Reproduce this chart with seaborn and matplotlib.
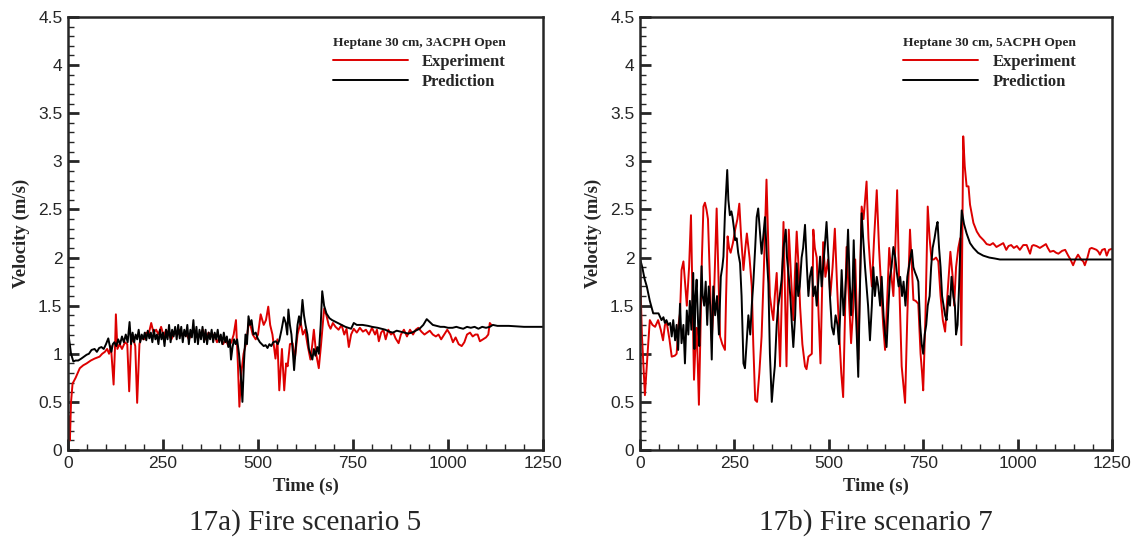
import numpy as np
import pandas as pd
import matplotlib
matplotlib.use('Agg')
import matplotlib.pyplot as plt
from matplotlib.ticker import MultipleLocator
import seaborn as sns

# ---- 17a) Fire scenario 5 : Heptane 30 cm, 3ACPH Open ----
a_exp_t = [0, 3, 5, 8, 12, 20, 31, 40, 49, 60, 70, 83, 90, 97, 103, 108, 113, 120, 124, 126, 130, 136, 142, 150,
           156, 161, 166, 172, 177, 182, 188, 193, 200, 206, 212, 219, 225, 232, 238, 245, 252, 258, 265, 272, 280,
           288, 295, 302, 310, 318, 325, 332, 340, 348, 355, 362, 370, 378, 385, 392, 400, 408, 415, 422, 430, 436,
           442, 447, 451, 456, 462, 468, 477, 486, 494, 500, 507, 515, 521, 527, 532, 538, 546, 551, 556, 563, 569,
           574, 578, 584, 591, 597, 604, 612, 618, 624, 630, 638, 643, 647, 653, 660, 666, 674, 680, 686, 691, 697,
           704, 712, 720, 727, 733, 739, 745, 752, 760, 768, 776, 784, 792, 800, 808, 813, 818, 824, 830, 836, 843,
           850, 856, 862, 870, 876, 884, 892, 900, 908, 915, 922, 930, 938, 945, 952, 960, 968, 975, 982, 990, 998,
           1006, 1013, 1020, 1028, 1036, 1043, 1050, 1058, 1065, 1072, 1078, 1084, 1092, 1100, 1106, 1110, 1114]
a_exp_v = [0.08, 0.35, 0.1, 0.5, 0.69, 0.75, 0.85, 0.88, 0.9, 0.93, 0.95, 0.97, 1.0, 1.02, 1.05, 1.0, 1.08, 0.68,
           1.1, 1.41, 1.05, 1.1, 1.05, 1.12, 1.1, 0.61, 1.12, 1.15, 1.08, 0.49, 1.1, 1.18, 1.15, 1.22, 1.2, 1.32,
           1.22, 1.25, 1.2, 1.28, 1.18, 1.25, 1.2, 1.15, 1.22, 1.2, 1.25, 1.18, 1.22, 1.15, 1.2, 1.25, 1.18, 1.2,
           1.25, 1.15, 1.22, 1.18, 1.2, 1.12, 1.18, 1.1, 1.15, 1.08, 1.12, 1.2, 1.35, 0.9, 0.45, 0.8, 1.0, 1.1, 1.35,
           1.2, 1.15, 1.2, 1.41, 1.3, 1.35, 1.49, 1.3, 1.2, 0.95, 1.15, 0.62, 1.05, 0.62, 0.9, 0.87, 1.1, 1.11, 0.95,
           1.2, 1.33, 1.2, 1.25, 1.1, 0.94, 1.1, 1.25, 1.0, 0.85, 1.1, 1.47, 1.4, 1.3, 1.26, 1.32, 1.28, 1.25, 1.3,
           1.2, 1.26, 1.07, 1.2, 1.26, 1.22, 1.27, 1.23, 1.25, 1.2, 1.27, 1.2, 1.25, 1.13, 1.22, 1.25, 1.15, 1.25,
           1.2, 1.22, 1.16, 1.11, 1.2, 1.25, 1.18, 1.25, 1.2, 1.25, 1.27, 1.23, 1.2, 1.22, 1.24, 1.2, 1.18, 1.2,
           1.15, 1.2, 1.25, 1.2, 1.12, 1.17, 1.1, 1.08, 1.12, 1.2, 1.22, 1.18, 1.2, 1.2, 1.13, 1.15, 1.17, 1.2,
           1.32, 1.3]

a_pred_t = [0, 3, 8, 14, 20, 27, 35, 42, 49, 55, 62, 70, 76, 82, 88, 94, 100, 106, 110, 114, 118, 122, 127, 132,
            137, 142, 147, 152, 157, 162, 166, 170, 174, 178, 182, 186, 190, 194, 198, 202, 206, 210, 214, 218, 222,
            226, 230, 234, 238, 242, 246, 250, 254, 258, 262, 266, 270, 274, 278, 282, 286, 290, 294, 298, 302, 306,
            310, 314, 318, 322, 326, 330, 334, 338, 342, 346, 350, 354, 358, 362, 366, 370, 374, 378, 382, 386, 390,
            394, 398, 402, 406, 410, 414, 418, 422, 426, 429, 433, 437, 441, 445, 450, 455, 459, 463, 467, 471, 475,
            479, 483, 488, 494, 499, 505, 510, 515, 520, 525, 530, 535, 540, 547, 552, 556, 562, 568, 573, 577, 580,
            584, 588, 592, 595, 600, 604, 608, 612, 617, 621, 625, 630, 634, 638, 643, 647, 651, 656, 660, 665, 669,
            674, 680, 688, 695, 705, 715, 730, 745, 752, 760, 775, 790, 800, 815,
            825, 835, 845, 855, 865, 875, 885, 895, 905, 915, 925, 935, 944, 952, 960, 970, 980, 990, 1000,
            1012, 1022, 1030, 1040, 1050, 1060, 1070, 1080, 1090, 1100, 1110, 1118, 1130, 1160, 1200, 1250]
a_pred_v = [1.25, 1.15, 1.0, 0.92, 0.93, 0.93, 0.95, 0.97, 0.99, 1.0, 1.04, 1.05, 1.02, 1.06, 1.07, 1.05, 1.1, 1.16,
            1.08, 1.02, 1.1, 1.12, 1.08, 1.15, 1.1, 1.18, 1.12, 1.2, 1.12, 1.33, 1.1, 1.22, 1.12, 1.2, 1.15, 1.25,
            1.12, 1.2, 1.15, 1.22, 1.14, 1.24, 1.16, 1.22, 1.12, 1.25, 1.15, 1.2, 1.1, 1.25, 1.15, 1.22, 1.08, 1.25,
            1.15, 1.3, 1.12, 1.25, 1.18, 1.28, 1.15, 1.3, 1.16, 1.28, 1.12, 1.25, 1.18, 1.3, 1.1, 1.25, 1.17, 1.35,
            1.12, 1.28, 1.1, 1.25, 1.15, 1.28, 1.12, 1.25, 1.1, 1.22, 1.15, 1.25, 1.12, 1.22, 1.15, 1.25, 1.12, 1.2,
            1.1, 1.22, 1.12, 1.18, 1.07, 1.15, 0.94, 1.07, 1.15, 1.1, 1.15, 1.0, 0.76, 0.5, 0.9, 1.2, 1.1, 1.39, 1.3,
            1.35, 1.2, 1.22, 1.16, 1.12, 1.1, 1.08, 1.09, 1.06, 1.1, 1.08, 1.12, 1.13, 1.1, 1.14, 1.25, 1.38, 1.32,
            1.2, 1.46, 1.3, 1.2, 1.0, 0.83, 1.1, 1.3, 1.39, 1.3, 1.56, 1.4, 1.3, 1.2, 1.05, 1.0, 0.94, 1.05, 0.98,
            1.07, 1.0, 1.3, 1.65, 1.5, 1.42, 1.37, 1.35, 1.33, 1.31, 1.28, 1.26, 1.32, 1.3, 1.3, 1.29, 1.28, 1.27,
            1.26, 1.25, 1.23, 1.22, 1.24, 1.23, 1.22, 1.21, 1.22, 1.24, 1.26, 1.3, 1.36, 1.33, 1.3, 1.29, 1.28, 1.28,
            1.27, 1.27, 1.28, 1.27, 1.26, 1.28, 1.27, 1.28, 1.26, 1.28, 1.27, 1.28, 1.3, 1.29, 1.29, 1.28, 1.28]

# ---- 17b) Fire scenario 7 : Heptane 30 cm, 5ACPH Open ----
b_exp_t = [0, 5, 13, 20, 26, 33, 40, 48, 55, 61, 66, 71, 78, 84, 92, 97, 102, 106, 110, 115, 120, 124, 130, 135,
           139, 143, 147, 150, 153, 156, 160, 164, 168, 172, 176, 180, 185, 190, 196, 203, 207, 212, 218, 225, 228,
           232, 236, 240, 246, 252, 258, 263, 268, 274, 279, 283, 290, 296, 300, 305, 310, 316, 322, 328, 335, 340,
           344, 349, 353, 357, 362, 368, 371, 375, 380, 384, 388, 394, 400, 406, 410, 415, 420, 424, 430, 437, 441,
           446, 455, 459, 463, 468, 473, 478, 485, 491, 498, 504, 510, 516, 522, 528, 533, 538, 543, 547, 553, 559,
           565, 570, 575, 578, 583, 587, 592, 600, 605, 609, 614, 620, 627, 633, 640, 644, 649, 655, 660, 666, 671,
           676, 681, 686, 693, 697, 702, 708, 715, 720, 724, 730, 737, 743, 747, 750, 756, 762, 767, 772, 778, 784,
           790, 796, 802, 808, 814, 822, 828, 832, 837, 843, 848, 851, 856, 860, 865, 870, 874, 883, 892, 900, 910,
           918, 927, 935, 944, 953, 962, 970, 976, 983, 990, 998, 1006, 1015, 1024, 1033, 1038, 1042, 1050, 1059,
           1067, 1075, 1080, 1086, 1095, 1102, 1108, 1118, 1126, 1134, 1140, 1147, 1153, 1160, 1168, 1174, 1178,
           1185, 1191, 1196, 1203, 1209, 1214, 1218, 1224, 1231, 1236, 1242, 1249]
b_exp_v = [1.9, 1.2, 0.57, 1.0, 1.35, 1.3, 1.28, 1.35, 1.25, 1.14, 1.3, 1.32, 1.15, 0.97, 0.98, 1.0, 1.3, 1.42,
           1.87, 1.96, 1.7, 1.5, 1.9, 2.44, 1.6, 0.73, 1.1, 1.27, 0.9, 0.47, 1.2, 2.0, 2.53, 2.57, 2.5, 2.4, 1.8,
           1.14, 1.6, 2.51, 1.9, 1.18, 1.1, 1.04, 1.6, 2.22, 2.1, 2.05, 2.15, 2.29, 2.4, 2.56, 2.2, 1.87, 2.1, 2.25,
           2.0, 1.7, 1.1, 0.52, 0.5, 0.8, 1.18, 1.87, 2.81, 2.1, 1.6, 1.45, 1.35, 1.6, 1.84, 1.2, 0.87, 1.5, 2.37,
           1.6, 0.87, 2.29, 1.8, 1.35, 1.8, 2.27, 1.9, 1.49, 1.1, 0.87, 0.84, 0.97, 1.0, 2.29, 2.1, 2.0, 1.4, 0.9,
           2.16, 1.8, 1.98, 1.6, 1.9, 2.3, 1.7, 1.18, 0.8, 0.55, 1.4, 2.11, 1.6, 1.11, 1.5, 1.98, 1.3, 0.94, 1.8,
           2.53, 2.4, 2.79, 2.2, 1.95, 1.7, 2.2, 2.7, 2.1, 1.6, 1.3, 1.04, 1.6, 2.1, 1.8, 1.6, 2.1, 2.7, 1.8, 0.87,
           0.7, 0.49, 1.4, 2.29, 1.9, 1.56, 1.55, 1.52, 1.0, 0.8, 0.62, 1.4, 2.53, 2.2, 1.98, 1.98, 2.0, 1.96, 1.6,
           1.35, 1.23, 1.6, 2.06, 1.8, 1.5, 1.9, 2.1, 2.2, 1.09, 3.26, 2.95, 2.74, 2.74, 2.55, 2.36, 2.27, 2.22,
           2.18, 2.14, 2.13, 2.15, 2.11, 2.13, 2.15, 2.08, 2.12, 2.13, 2.1, 2.12, 2.08, 2.13, 2.13, 2.04, 2.12, 2.13,
           2.12, 2.1, 2.12, 2.14, 2.1, 2.06, 2.07, 2.05, 2.04, 2.07, 2.08, 2.02, 1.98, 1.92, 1.98, 2.03, 1.98, 1.96,
           1.92, 2.0, 2.09, 2.1, 2.09, 2.08, 2.06, 2.03, 2.08, 2.09, 2.02, 2.08, 2.09]

b_pred_t = [0, 6, 12, 18, 26, 35, 42, 49, 57, 62, 66, 70, 75, 80, 84, 88, 93, 97, 101, 106, 110, 115, 119, 124, 128,
            132, 136, 141, 144, 147, 150, 154, 157, 160, 163, 166, 170, 174, 178, 182, 186, 190, 194, 199, 204, 209,
            214, 218, 221, 225, 231, 234, 238, 242, 245, 249, 252, 256, 260, 265, 269, 274, 278, 282, 287, 292, 296,
            300, 305, 309, 313, 317, 322, 326, 331, 336, 340, 344, 349, 353, 357, 362, 366, 370, 375, 380, 386, 389,
            394, 398, 402, 406, 411, 415, 419, 423, 428, 432, 437, 442, 446, 450, 455, 459, 464, 468, 473, 477, 481,
            485, 489, 494, 499, 503, 508, 513, 518, 523, 527, 531, 534, 539, 543, 547, 551, 555, 559, 563, 566, 570,
            574, 578, 582, 587, 591, 596, 600, 604, 609, 614, 618, 622, 627, 631, 636, 640, 645, 649, 653, 658, 662,
            666, 671, 676, 680, 685, 689, 694, 698, 703, 708, 712, 716, 720, 724, 728, 733, 737, 742, 746, 750, 754,
            758, 762, 767, 771, 775, 780, 784, 788, 792, 796, 800, 804, 808, 812, 817, 821, 825, 830, 834, 837, 841,
            845, 849, 852, 858, 865, 874, 883, 895, 909, 925, 940, 953, 1000, 1100, 1250]
b_pred_v = [1.99, 1.9, 1.78, 1.7, 1.55, 1.42, 1.42, 1.42, 1.35, 1.38, 1.32, 1.35, 1.3, 1.32, 1.18, 1.35, 1.14, 1.3,
            1.04, 1.52, 1.11, 1.3, 0.9, 1.45, 1.2, 1.55, 1.25, 1.84, 1.05, 1.6, 1.77, 1.3, 1.08, 1.5, 1.91, 1.6, 1.5,
            1.75, 1.3, 1.7, 1.5, 0.94, 1.7, 1.4, 1.6, 1.2, 1.8, 1.9, 2.01, 2.46, 2.91, 2.6, 2.44, 2.48, 2.42, 2.3,
            2.18, 2.2, 2.05, 1.94, 1.6, 0.9, 0.85, 1.1, 1.4, 1.2, 1.5, 1.73, 2.1, 2.42, 2.51, 2.3, 2.04, 2.2, 2.42,
            2.0, 1.73, 1.0, 0.5, 0.7, 0.87, 1.3, 1.5, 1.6, 1.77, 2.1, 2.29, 2.01, 1.8, 1.6, 1.32, 1.07, 1.4, 1.94,
            1.6, 1.7, 2.0, 2.1, 2.34, 1.9, 1.6, 1.8, 1.9, 1.6, 1.7, 1.5, 1.8, 2.01, 1.7, 1.9, 2.1, 2.37, 2.0, 1.6,
            1.28, 1.2, 1.4, 1.3, 1.1, 1.5, 1.87, 1.4, 1.6, 1.9, 2.29, 1.8, 1.4, 1.7, 2.18, 1.6, 1.2, 0.76, 1.6, 2.46,
            2.2, 1.9, 1.7, 1.5, 1.14, 1.5, 1.9, 1.6, 1.8, 1.7, 1.5, 1.8, 1.4, 1.2, 1.07, 1.5, 1.8, 1.9, 2.11, 2.0,
            1.85, 1.7, 1.8, 1.6, 1.75, 1.5, 1.8, 1.9, 2.0, 2.08, 1.9, 1.85, 1.8, 1.75, 1.3, 1.1, 1.0, 1.2, 1.3, 1.5,
            1.6, 1.9, 2.1, 2.2, 2.3, 2.37, 2.1, 1.9, 1.6, 1.5, 1.4, 1.35, 1.6, 1.5, 1.8, 1.6, 1.5, 1.2, 1.3, 1.7, 2.2,
            2.49, 2.35, 2.25, 2.15, 2.1, 2.05, 2.02, 2.0, 1.99, 1.98, 1.98, 1.98, 1.98]

panels = [
    ('Heptane 30 cm, 3ACPH Open', '17a) Fire scenario 5', a_exp_t, a_exp_v, a_pred_t, a_pred_v),
    ('Heptane 30 cm, 5ACPH Open', '17b) Fire scenario 7', b_exp_t, b_exp_v, b_pred_t, b_pred_v),
]
palette = {'Experiment': '#dd0000', 'Prediction': '#000000'}

sns.set_style('ticks')
plt.rcParams['font.family'] = ['Liberation Sans', 'DejaVu Sans']

fig = plt.figure(figsize=(11.33, 5.41), dpi=100)
axes_pos = [[68 / 1133, 1 - 450 / 541, 475 / 1133, 433 / 541],
            [640 / 1133, 1 - 450 / 541, 472 / 1133, 433 / 541]]
serif = 'Liberation Serif'

for pos, (title, caption, et, ev, pt, pv) in zip(axes_pos, panels):
    ax = fig.add_axes(pos)
    df = pd.concat([
        pd.DataFrame({'time': et, 'velocity': ev, 'series': 'Experiment'}),
        pd.DataFrame({'time': pt, 'velocity': pv, 'series': 'Prediction'}),
    ], ignore_index=True)
    sns.lineplot(data=df, x='time', y='velocity', hue='series', palette=palette,
                 estimator=None, sort=False, linewidth=1.4, ax=ax)

    ax.set_xlim(0, 1250)
    ax.set_ylim(0, 4.5)
    ax.xaxis.set_major_locator(MultipleLocator(250))
    ax.xaxis.set_minor_locator(MultipleLocator(50))
    ax.yaxis.set_major_locator(MultipleLocator(0.5))
    ax.yaxis.set_minor_locator(MultipleLocator(0.1))
    ax.yaxis.set_major_formatter(plt.FuncFormatter(lambda v, p: f'{v:g}'))
    ax.tick_params(which='major', direction='in', length=8, width=2, labelsize=12.5, pad=4)
    ax.tick_params(which='minor', direction='in', length=4, width=1)
    for s in ax.spines.values():
        s.set_linewidth(1.8)

    ax.set_xlabel('Time (s)', fontfamily=serif, fontweight='bold', fontsize=13.5, labelpad=5)
    ax.set_ylabel('Velocity (m/s)', fontfamily=serif, fontweight='bold', fontsize=13.5, labelpad=6)

    leg = ax.legend(title=title, loc='upper left', bbox_to_anchor=(0.54, 0.972), frameon=False,
                    borderpad=0, handlelength=4.5, handletextpad=0.85, labelspacing=0.25,
                    alignment='left', prop={'family': serif, 'weight': 'bold', 'size': 12})
    leg.get_title().set_fontfamily(serif)
    leg.get_title().set_fontweight('bold')
    leg.get_title().set_fontsize(9.7)
    for line in leg.get_lines():
        line.set_linewidth(1.4)

    ax.text(0.5, -0.185, caption, transform=ax.transAxes, ha='center', va='baseline',
            fontfamily=serif, fontsize=21)

fig.savefig('out.png', dpi=100)
